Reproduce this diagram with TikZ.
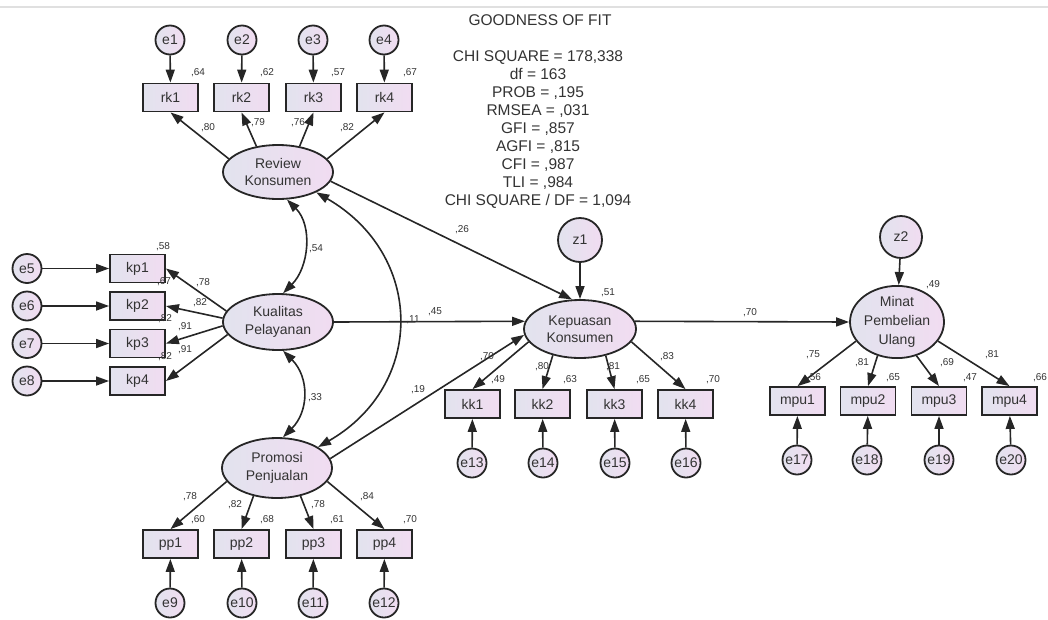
\documentclass[tikz,border=0pt]{standalone}
\usepackage{fontspec}
\setmainfont{Liberation Sans}
\usetikzlibrary{shapes.geometric,arrows.meta}

\definecolor{edgec}{HTML}{262626}
\definecolor{txtc}{HTML}{333333}
\definecolor{fillL}{HTML}{E2E3EE}
\definecolor{fillR}{HTML}{F1DCF1}

\tikzset{
  obsbox/.style={rectangle, draw=edgec, line width=1.8pt, left color=fillL, right color=fillR,
    minimum width=55pt, minimum height=28pt, inner sep=0pt, text=txtc, font=\fontsize{14}{16}\selectfont},
  latent/.style={ellipse, draw=edgec, line width=1.8pt, left color=fillL, right color=fillR,
    inner sep=0pt, align=center, text=txtc, font=\fontsize{14}{17.5}\selectfont},
  errc/.style={circle, draw=edgec, line width=1.8pt, left color=fillL, right color=fillR,
    minimum size=29pt, inner sep=0pt, text=txtc, font=\fontsize{14}{16}\selectfont},
  coef/.style={text=txtc, inner sep=0pt, font=\fontsize{10}{12}\selectfont},
  regpath/.style={draw=edgec, line width=1.6pt, -{Triangle[length=13pt,width=9pt]}},
  covpath/.style={draw=edgec, line width=1.6pt, {Triangle[length=13pt,width=9pt]}-{Triangle[length=13pt,width=9pt]}}
}

\begin{document}
\begin{tikzpicture}[x=1pt, y=-1pt]
  \useasboundingbox (0,0) rectangle (1048,619);
  % top border line
  \draw[black!12, line width=2pt] (0,7) -- (1048,7);

  % goodness of fit
  \node[text=txtc, font=\fontsize{15.5}{18}\selectfont] (gof) at (540,20) {GOODNESS OF FIT};
  \node[text=txtc, align=center, font=\fontsize{15.5}{17.9}\selectfont] (fit) at (538,129.5)
    {CHI SQUARE = 178,338\\df = 163\\PROB = ,195\\RMSEA = ,031\\GFI = ,857\\AGFI = ,815\\CFI = ,987\\TLI = ,984\\CHI SQUARE / DF = 1,094};

  % Review Konsumen
  \node[errc] (e1) at (170,40) {e1};
  \node[errc] (e2) at (242,40) {e2};
  \node[errc] (e3) at (313,40) {e3};
  \node[errc] (e4) at (384,40) {e4};
  \node[obsbox] (rk1) at (170.5,97.5) {rk1};
  \node[obsbox] (rk2) at (241.5,97.5) {rk2};
  \node[obsbox] (rk3) at (313.5,97.5) {rk3};
  \node[obsbox] (rk4) at (384.5,97.5) {rk4};
  \node[latent, minimum width=110pt, minimum height=54pt] (RK) at (278,172) {Review\\Konsumen};

  % Kualitas Pelayanan
  \node[errc] (e5) at (27,268.5) {e5};
  \node[errc] (e6) at (27,306) {e6};
  \node[errc] (e7) at (27,343.5) {e7};
  \node[errc] (e8) at (27,381) {e8};
  \node[obsbox] (kp1) at (137.5,268.5) {kp1};
  \node[obsbox] (kp2) at (137.5,306) {kp2};
  \node[obsbox] (kp3) at (137.5,343.5) {kp3};
  \node[obsbox] (kp4) at (137.5,381) {kp4};
  \node[latent, minimum width=110pt, minimum height=56pt] (KP) at (278,322) {Kualitas\\Pelayanan};

  % Promosi Penjualan
  \node[latent, minimum width=110pt, minimum height=60pt] (PP) at (277,468) {Promosi\\Penjualan};
  \node[obsbox] (pp1) at (170.5,544) {pp1};
  \node[obsbox] (pp2) at (241.5,544) {pp2};
  \node[obsbox] (pp3) at (313.5,544) {pp3};
  \node[obsbox] (pp4) at (384.5,544) {pp4};
  \node[errc] (e9) at (170,603) {e9};
  \node[errc] (e10) at (242,603) {e10};
  \node[errc] (e11) at (313,603) {e11};
  \node[errc] (e12) at (384,603) {e12};

  % Kepuasan Konsumen
  \node[errc, minimum size=44pt] (z1) at (580,240) {z1};
  \node[latent, minimum width=112pt, minimum height=58pt] (KK) at (580,329) {Kepuasan\\Konsumen};
  \node[obsbox] (kk1) at (472.5,404) {kk1};
  \node[obsbox] (kk2) at (542.5,404) {kk2};
  \node[obsbox] (kk3) at (614.5,404) {kk3};
  \node[obsbox] (kk4) at (685.5,404) {kk4};
  \node[errc] (e13) at (472,463) {e13};
  \node[errc] (e14) at (543,463) {e14};
  \node[errc] (e15) at (615,463) {e15};
  \node[errc] (e16) at (686,463) {e16};

  % Minat Pembelian Ulang
  \node[errc, minimum size=42pt] (z2) at (901,237) {z2};
  \node[latent, minimum width=94pt, minimum height=66pt, font=\fontsize{14}{19}\selectfont] (MPU) at (897,322) {Minat\\Pembelian\\Ulang};
  \node[obsbox] (mpu1) at (797.5,401) {mpu1};
  \node[obsbox] (mpu2) at (868,401) {mpu2};
  \node[obsbox] (mpu3) at (939,401) {mpu3};
  \node[obsbox] (mpu4) at (1009.5,401) {mpu4};
  \node[errc] (e17) at (797,460) {e17};
  \node[errc] (e18) at (867,460) {e18};
  \node[errc] (e19) at (939,460) {e19};
  \node[errc] (e20) at (1011,460) {e20};

  % error paths
  \draw[regpath] (e1) -- (rk1);
  \draw[regpath] (e2) -- (rk2);
  \draw[regpath] (e3) -- (rk3);
  \draw[regpath] (e4) -- (rk4);
  \draw[regpath] (e5) -- (kp1);
  \draw[regpath] (e6) -- (kp2);
  \draw[regpath] (e7) -- (kp3);
  \draw[regpath] (e8) -- (kp4);
  \draw[regpath] (e9) -- (pp1);
  \draw[regpath] (e10) -- (pp2);
  \draw[regpath] (e11) -- (pp3);
  \draw[regpath] (e12) -- (pp4);
  \draw[regpath] (e13) -- (kk1);
  \draw[regpath] (e14) -- (kk2);
  \draw[regpath] (e15) -- (kk3);
  \draw[regpath] (e16) -- (kk4);
  \draw[regpath] (e17) -- (mpu1);
  \draw[regpath] (e18) -- (mpu2);
  \draw[regpath] (e19) -- (mpu3);
  \draw[regpath] (e20) -- (mpu4);
  \draw[regpath] (z1) -- (KK);
  \draw[regpath] (z2) -- (MPU);

  % loadings
  \draw[regpath] (RK.165) -- (rk1.south);
  \draw[regpath] (RK.130) -- (rk2.south);
  \draw[regpath] (RK.50) -- (rk3.south);
  \draw[regpath] (RK.15) -- (rk4.south);
  \draw[regpath] (KP.168) -- (kp1.east);
  \draw[regpath] (KP.176) -- (kp2.east);
  \draw[regpath] (KP.184) -- (kp3.east);
  \draw[regpath] (KP.194) -- (kp4.east);
  \draw[regpath] (PP.195) -- (pp1.north);
  \draw[regpath] (PP.230) -- (pp2.north);
  \draw[regpath] (PP.310) -- (pp3.north);
  \draw[regpath] (PP.345) -- (pp4.north);
  \draw[regpath] (KK.194) -- (kk1.north);
  \draw[regpath] (KK.224) -- (kk2.north);
  \draw[regpath] (KK.314) -- (kk3.north);
  \draw[regpath] (KK.346) -- (kk4.north);
  \draw[regpath] (MPU.205) -- (mpu1.north);
  \draw[regpath] (MPU.240) -- (mpu2.north);
  \draw[regpath] (MPU.300) -- (mpu3.north);
  \draw[regpath] (MPU.335) -- (mpu4.north);

  % structural paths
  \draw[regpath] (RK.-10) -- (KK.105);
  \draw[regpath] (KP.east) -- (KK.172);
  \draw[regpath] (PP.10) -- (KK.186);
  \draw[regpath] (KK.8) -- (MPU.west);

  % covariances
  \draw[covpath] (RK.-72) to[out=-45, in=45] (KP.80);
  \draw[covpath] (KP.-80) to[out=-45, in=45, looseness=1.1] (PP.79);
  \draw[covpath] (RK.-28) to[out=-30, in=30, looseness=1.25] (PP.27);

  % squared multiple correlations
  \node[coef] (s1) at (198,73) {,64};
  \node[coef] (s2) at (267,73) {,62};
  \node[coef] (s3) at (338,73) {,57};
  \node[coef] (s4) at (410,73) {,67};
  \node[coef] (s5) at (163,247) {,58};
  \node[coef] (s6) at (164,282) {,67};
  \node[coef] (s7) at (165,319) {,82};
  \node[coef] (s8) at (165,357) {,82};
  \node[coef] (s9) at (198,520) {,60};
  \node[coef] (s10) at (267,520) {,68};
  \node[coef] (s11) at (337,520) {,61};
  \node[coef] (s12) at (410,520) {,70};
  \node[coef] (s13) at (498,380) {,49};
  \node[coef] (s14) at (570,380) {,63};
  \node[coef] (s15) at (643,380) {,65};
  \node[coef] (s16) at (713,380) {,70};
  \node[coef] (s17) at (814,378) {,56};
  \node[coef] (s18) at (893,378) {,65};
  \node[coef] (s19) at (970,378) {,47};
  \node[coef] (s20) at (1040,378) {,66};
  \node[coef] (sKK) at (608,293) {,51};
  \node[coef] (sMPU) at (933,285) {,49};

  % loading weights
  \node[coef] (w1) at (208,128) {,80};
  \node[coef] (w2) at (258,123) {,79};
  \node[coef] (w3) at (298,123) {,76};
  \node[coef] (w4) at (347,128) {,82};
  \node[coef] (w5) at (203,283) {,78};
  \node[coef] (w6) at (200,303) {,82};
  \node[coef] (w7) at (185,327) {,91};
  \node[coef] (w8) at (185,350) {,91};
  \node[coef] (w9) at (190,497) {,78};
  \node[coef] (w10) at (235,505) {,82};
  \node[coef] (w11) at (318,505) {,78};
  \node[coef] (w12) at (367,497) {,84};
  \node[coef] (w13) at (487,357) {,70};
  \node[coef] (w14) at (542,367) {,80};
  \node[coef] (w15) at (613,367) {,81};
  \node[coef] (w16) at (667,357) {,83};
  \node[coef] (w17) at (813,355) {,75};
  \node[coef] (w18) at (862,363) {,81};
  \node[coef] (w19) at (947,363) {,69};
  \node[coef] (w20) at (992,355) {,81};

  % path weights and correlations
  \node[coef] (b1) at (462,230) {,26};
  \node[coef] (b2) at (435,312) {,45};
  \node[coef] (b3) at (418,390) {,19};
  \node[coef] (b4) at (750,313) {,70};
  \node[coef] (c1) at (316,249) {,54};
  \node[coef] (c2) at (315,398) {,33};
  \node[coef] (c3) at (413,320) {,11};
\end{tikzpicture}
\end{document}
